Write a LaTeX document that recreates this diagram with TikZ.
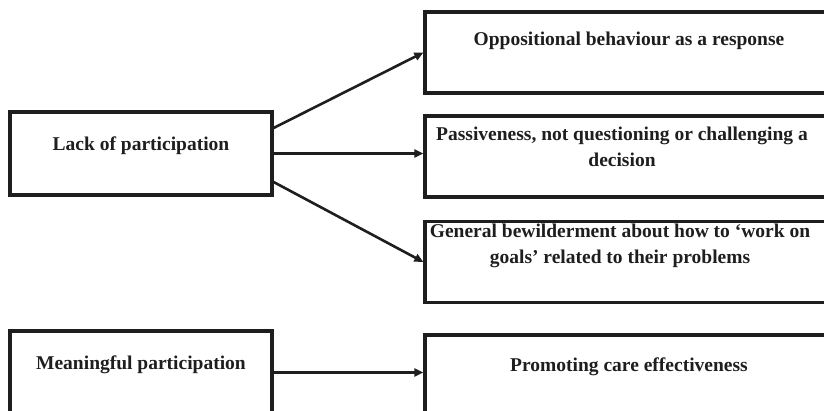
\documentclass[tikz,border=0pt]{standalone}
\usepackage{fontspec}
\setmainfont{Liberation Serif}
\usetikzlibrary{arrows.meta}
\definecolor{ink}{HTML}{1E1E1E}
\begin{document}
\begin{tikzpicture}[x=1pt,y=-1pt,
  box/.style={draw=ink, line width=3.2pt, rectangle, inner sep=0pt},
  leftbox/.style={box, minimum width=262pt, minimum height=83pt},
  rightbox/.style={box, minimum width=411pt, minimum height=81pt},
  txt/.style={text=ink, font=\fontsize{19.5}{26}\selectfont\bfseries, align=center, inner sep=0pt, anchor=base},
  arr/.style={draw=ink, line width=2.6pt, -{Triangle[length=9pt,width=8pt]}}]
\useasboundingbox (0,0) rectangle (824,410);
\clip (0,0) rectangle (824,410);
% boxes
\node[leftbox] (lack) at (141,153.5) {};
\node[rightbox] (opp) at (630.5,52.5) {};
\node[rightbox] (pass) at (630.5,156.5) {};
\node[rightbox] (gen) at (630.5,262) {};
\node[leftbox] (mean) at (141,372.5) {};
\node[rightbox, minimum height=83pt] (prom) at (630.5,376.5) {};
% texts (base = baseline of last line)
\node[txt] (lackt) at (141,150) {Lack of participation};
\node[txt] (oppt) at (629,45) {Oppositional behaviour as a response};
\node[txt] (passt) at (622,166) {Passiveness, not questioning or challenging a\\decision};
\node[txt] (gent) at (620,263) {General bewilderment about how to ‘work on\\goals’ related to their problems};
\node[txt] (meant) at (141,369) {Meaningful participation};
\node[txt] (promt) at (629,371) {Promoting care effectiveness};
% connectors
\draw[arr] ([yshift=25.5pt]lack.east) -- (opp.west);
\draw[arr] (lack.east) -- (lack.east -| pass.west);
\draw[arr] ([yshift=-28.5pt]lack.east) -- (gen.west);
\draw[arr] (mean.east) -- (mean.east -| prom.west);
\end{tikzpicture}
\end{document}
